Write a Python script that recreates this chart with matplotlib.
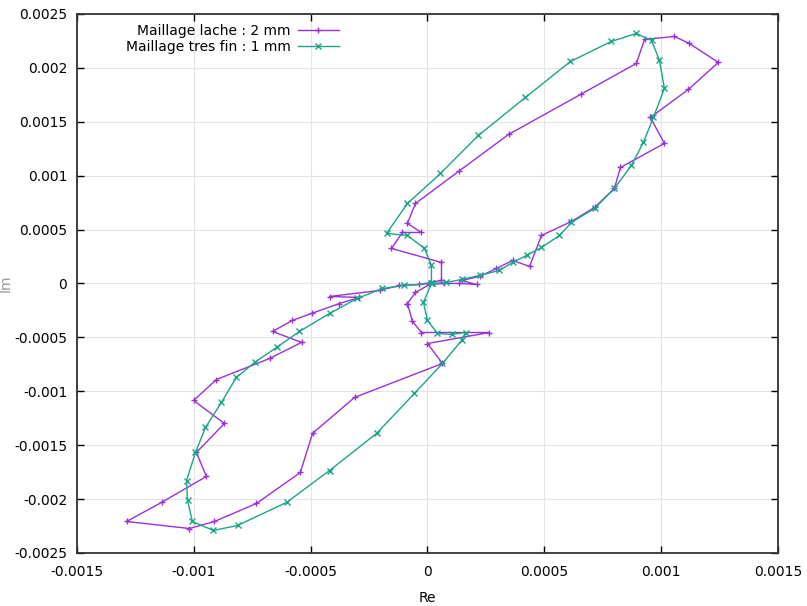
import matplotlib.pyplot as plt
import numpy as np
from matplotlib.ticker import FuncFormatter

# Maillage lache : 2 mm
re_lache = [-0.0000856, -0.0000514, 0.0000086, 0.0000728, 0.000137, 0.00021, 0.000146, 0.000223,
            0.000295, 0.000364, 0.000437, 0.000488, 0.000616, 0.000715, 0.0008, 0.000826,
            0.001014, 0.000954, 0.001117, 0.001245, 0.001121, 0.001057, 0.000929, 0.000894,
            0.000655, 0.000347, 0.000133, -0.0000514, -0.0000856, -0.0000257, -0.000107, -0.000154,
            0.0000599, 0.0000599, -0.0000342, -0.00012, -0.000205, -0.000419, -0.000291, -0.000377,
            -0.000496, -0.000578, -0.000663, -0.000539, -0.000676, -0.000903, -0.001001, -0.000869,
            -0.000989, -0.000946, -0.001138, -0.001288, -0.001019, -0.000912, -0.000732, -0.000544,
            -0.000492, -0.000312, 0.0000642, 0.0, 0.000265, -0.0000257, -0.0000642, -0.0000856]
im_lache = [-0.000186, -0.0000835, -0.0000093, 0.0, 0.0, -0.0000093, 0.0000278, 0.000065,
            0.000139, 0.000213, 0.000158, 0.000445, 0.000575, 0.000705, 0.000881, 0.001076,
            0.001299, 0.00154, 0.0018, 0.00205, 0.002226, 0.002291, 0.002263, 0.002041,
            0.001753, 0.001382, 0.001039, 0.000742, 0.000557, 0.000473, 0.000473, 0.000325,
            0.000195, 0.0000278, -0.0000093, -0.0000186, -0.0000649, -0.000121, -0.00013, -0.000186,
            -0.000278, -0.000343, -0.000445, -0.000547, -0.000696, -0.000891, -0.001085, -0.001299,
            -0.001568, -0.00179, -0.002031, -0.002208, -0.002273, -0.002208, -0.002041, -0.001753,
            -0.001391, -0.001057, -0.000742, -0.000557, -0.000455, -0.000455, -0.000352, -0.000186]

# Maillage tres fin : 1 mm
re_fin = [0.0000214, 0.0000813, 0.000146, 0.000223, 0.000308, 0.000364, 0.000424, 0.000488,
          0.000565, 0.000616, 0.000715, 0.0008, 0.000873, 0.000924, 0.000967, 0.001014,
          0.000993, 0.000959, 0.000894, 0.000787, 0.000612, 0.000419, 0.000218, 0.0000556,
          -0.0000856, -0.000175, -0.0000856, -0.0000128, 0.0000171, 0.0000171, -0.0000171, 0.0,
          0.0000428, 0.000103, 0.000163, 0.000146, 0.0000642, -0.0000556, -0.000218, -0.000419,
          -0.000603, -0.000813, -0.000916, -0.001006, -0.001027, -0.001031, -0.000993, -0.00095,
          -0.000882, -0.000818, -0.00074, -0.000646, -0.000548, -0.000419, -0.0003, -0.000193,
          -0.0000984, 0.0000214]
im_fin = [0.0, 0.0000093, 0.0000371, 0.0000742, 0.000121, 0.000195, 0.00026, 0.000334,
          0.000445, 0.000566, 0.000696, 0.000881, 0.001095, 0.001308, 0.00154, 0.001809,
          0.002069, 0.002254, 0.002319, 0.002245, 0.002059, 0.001725, 0.001373, 0.00102,
          0.000742, 0.000464, 0.000445, 0.000325, 0.000167, 0.0, -0.000176, -0.000343,
          -0.000464, -0.000473, -0.000455, -0.000529, -0.000742, -0.00102, -0.001391, -0.001735,
          -0.002031, -0.002245, -0.002291, -0.002208, -0.002013, -0.001828, -0.001568, -0.001336,
          -0.001104, -0.000872, -0.000733, -0.000594, -0.000445, -0.000278, -0.000139, -0.0000464,
          -0.0000186, 0.0]

plt.rcParams['font.family'] = 'DejaVu Sans'
plt.rcParams['font.size'] = 10

fig = plt.figure(figsize=(8.07, 6.06), dpi=100)
ax = fig.add_axes([0.0954, 0.0875, 0.8686, 0.8895])

ax.plot(re_lache, im_lache, color='#9b30d9', linewidth=1.0, marker='+', markersize=5,
        markeredgewidth=1.0, label='Maillage lache : 2 mm')
ax.plot(re_fin, im_fin, color='#1aa58a', linewidth=1.0, marker='x', markersize=4,
        markeredgewidth=1.0, label='Maillage tres fin : 1 mm')

ax.set_xlim(-0.0015, 0.0015)
ax.set_ylim(-0.0025, 0.0025)
ax.set_xticks(np.arange(-0.0015, 0.00151, 0.0005))
ax.set_yticks(np.arange(-0.0025, 0.00251, 0.0005))
fmt = FuncFormatter(lambda v, _: f'{round(v, 6) + 0:g}')
ax.xaxis.set_major_formatter(fmt)
ax.yaxis.set_major_formatter(fmt)
ax.tick_params(direction='in', length=5, width=1, top=True, right=True, pad=7)
ax.tick_params(axis='x', pad=9)
for s in ax.spines.values():
    s.set_linewidth(1.3)
    s.set_color('#333333')
ax.grid(True, color='#e4e4e4', linewidth=0.8)
ax.set_axisbelow(True)

ax.set_xlabel('Re', labelpad=8)
ax.set_ylabel('Im', color='#999999')
ax.yaxis.set_label_coords(-0.092, 0.5)

ax.legend(loc='upper right', bbox_to_anchor=(0.388, 1.0), frameon=False, markerfirst=False,
          handlelength=3.0, labelspacing=0.15, handletextpad=0.5, borderaxespad=0.3)

fig.savefig('out.png', dpi=100)
